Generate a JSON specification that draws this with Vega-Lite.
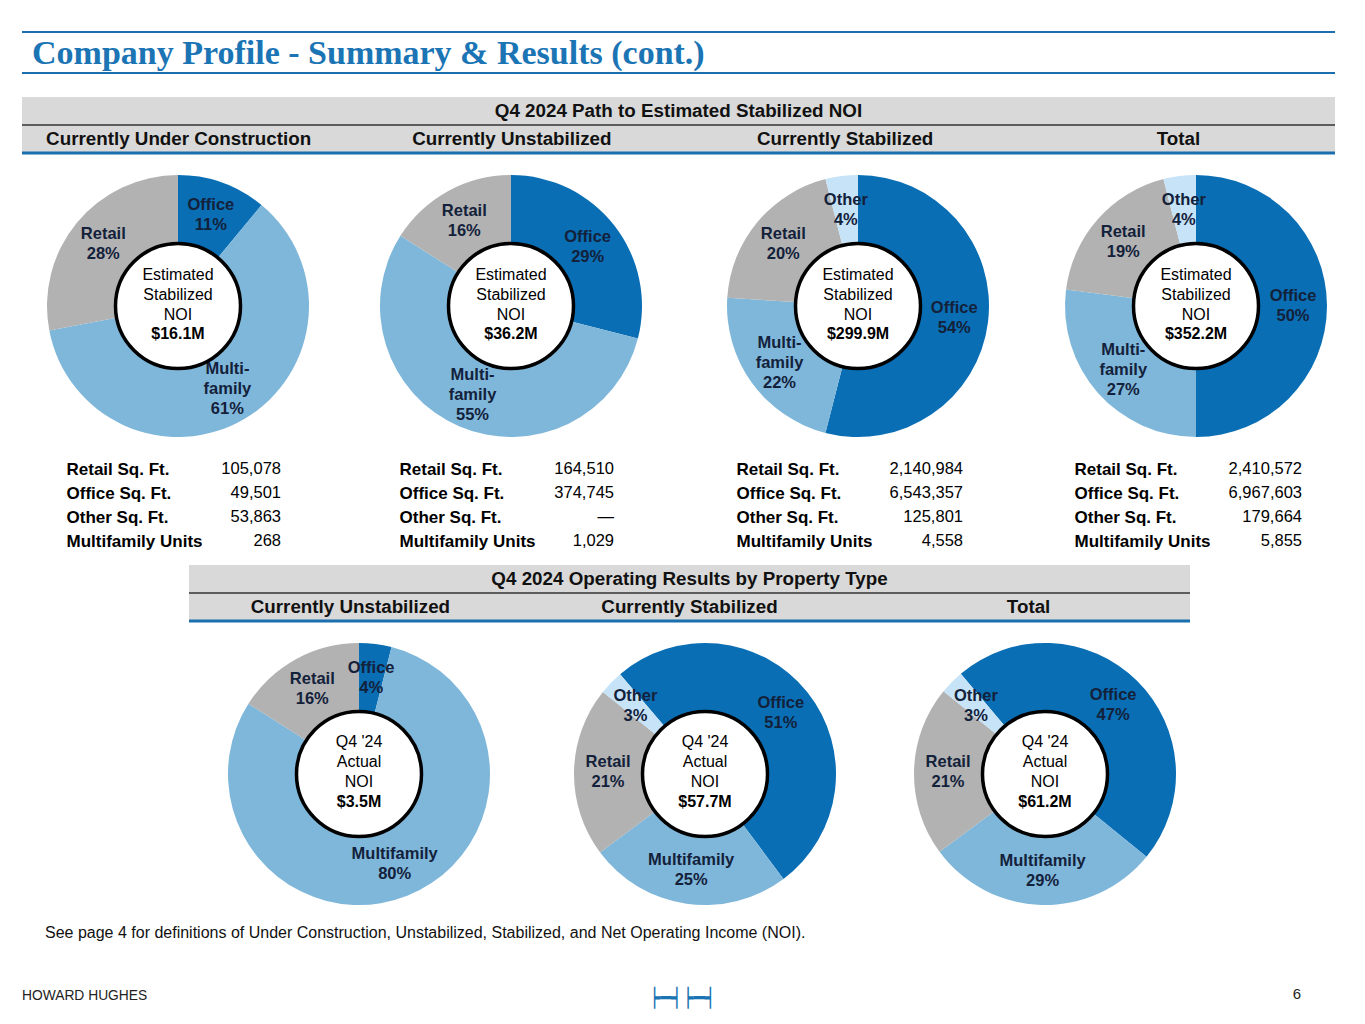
{
  "$schema": "https://vega.github.io/schema/vega-lite/v6.json",
  "padding": {"left": 20, "top": 31, "right": 0, "bottom": 0},
  "background": "white",
  "bounds": "full",
  "spacing": 0,
  "config": {
    "view": {"stroke": null},
    "font": "Liberation Sans",
    "text": {"font": "Liberation Sans"},
    "axis": {"labelFont": "Liberation Sans"}
  },
  "datasets": {
    "slices": [
      {"section": "Path", "status": "Currently Under Construction", "type": "Office", "rank": 1, "pct": 11, "label": "Office\n11%"},
      {"section": "Path", "status": "Currently Under Construction", "type": "Multifamily", "rank": 2, "pct": 61, "label": "Multi-\nfamily\n61%"},
      {"section": "Path", "status": "Currently Under Construction", "type": "Retail", "rank": 3, "pct": 28, "label": "Retail\n28%"},
      {"section": "Path", "status": "Currently Unstabilized", "type": "Office", "rank": 1, "pct": 29, "label": "Office\n29%"},
      {"section": "Path", "status": "Currently Unstabilized", "type": "Multifamily", "rank": 2, "pct": 55, "label": "Multi-\nfamily\n55%"},
      {"section": "Path", "status": "Currently Unstabilized", "type": "Retail", "rank": 3, "pct": 16, "label": "Retail\n16%"},
      {"section": "Path", "status": "Currently Stabilized", "type": "Office", "rank": 1, "pct": 54, "label": "Office\n54%"},
      {"section": "Path", "status": "Currently Stabilized", "type": "Multifamily", "rank": 2, "pct": 22, "label": "Multi-\nfamily\n22%"},
      {"section": "Path", "status": "Currently Stabilized", "type": "Retail", "rank": 3, "pct": 20, "label": "Retail\n20%"},
      {"section": "Path", "status": "Currently Stabilized", "type": "Other", "rank": 4, "pct": 4, "label": "Other\n4%"},
      {"section": "Path", "status": "Total", "type": "Office", "rank": 1, "pct": 50, "label": "Office\n50%"},
      {"section": "Path", "status": "Total", "type": "Multifamily", "rank": 2, "pct": 27, "label": "Multi-\nfamily\n27%"},
      {"section": "Path", "status": "Total", "type": "Retail", "rank": 3, "pct": 19, "label": "Retail\n19%"},
      {"section": "Path", "status": "Total", "type": "Other", "rank": 4, "pct": 4, "label": "Other\n4%"},
      {"section": "Operating", "status": "Currently Unstabilized", "type": "Office", "rank": 1, "pct": 4, "label": "Office\n4%"},
      {"section": "Operating", "status": "Currently Unstabilized", "type": "Multifamily", "rank": 2, "pct": 80, "label": "Multifamily\n80%"},
      {"section": "Operating", "status": "Currently Unstabilized", "type": "Retail", "rank": 3, "pct": 16, "label": "Retail\n16%"},
      {"section": "Operating", "status": "Currently Stabilized", "type": "Office", "rank": 1, "pct": 51, "label": "Office\n51%"},
      {"section": "Operating", "status": "Currently Stabilized", "type": "Multifamily", "rank": 2, "pct": 25, "label": "Multifamily\n25%"},
      {"section": "Operating", "status": "Currently Stabilized", "type": "Retail", "rank": 3, "pct": 21, "label": "Retail\n21%"},
      {"section": "Operating", "status": "Currently Stabilized", "type": "Other", "rank": 4, "pct": 3, "label": "Other\n3%"},
      {"section": "Operating", "status": "Total", "type": "Office", "rank": 1, "pct": 47, "label": "Office\n47%"},
      {"section": "Operating", "status": "Total", "type": "Multifamily", "rank": 2, "pct": 29, "label": "Multifamily\n29%"},
      {"section": "Operating", "status": "Total", "type": "Retail", "rank": 3, "pct": 21, "label": "Retail\n21%"},
      {"section": "Operating", "status": "Total", "type": "Other", "rank": 4, "pct": 3, "label": "Other\n3%"}
    ],
    "centers": [
      {"section": "Path", "status": "Currently Under Construction", "caption": "Estimated\nStabilized\nNOI", "amount": "$16.1M"},
      {"section": "Path", "status": "Currently Unstabilized", "caption": "Estimated\nStabilized\nNOI", "amount": "$36.2M"},
      {"section": "Path", "status": "Currently Stabilized", "caption": "Estimated\nStabilized\nNOI", "amount": "$299.9M"},
      {"section": "Path", "status": "Total", "caption": "Estimated\nStabilized\nNOI", "amount": "$352.2M"},
      {"section": "Operating", "status": "Currently Unstabilized", "caption": "Q4 '24\nActual\nNOI", "amount": "$3.5M"},
      {"section": "Operating", "status": "Currently Stabilized", "caption": "Q4 '24\nActual\nNOI", "amount": "$57.7M"},
      {"section": "Operating", "status": "Total", "caption": "Q4 '24\nActual\nNOI", "amount": "$61.2M"}
    ],
    "tables": [
      {"status": "Currently Under Construction", "metric": "Retail Sq. Ft.", "value": 105078},
      {"status": "Currently Under Construction", "metric": "Office Sq. Ft.", "value": 49501},
      {"status": "Currently Under Construction", "metric": "Other Sq. Ft.", "value": 53863},
      {"status": "Currently Under Construction", "metric": "Multifamily Units", "value": 268},
      {"status": "Currently Unstabilized", "metric": "Retail Sq. Ft.", "value": 164510},
      {"status": "Currently Unstabilized", "metric": "Office Sq. Ft.", "value": 374745},
      {"status": "Currently Unstabilized", "metric": "Other Sq. Ft.", "value": null},
      {"status": "Currently Unstabilized", "metric": "Multifamily Units", "value": 1029},
      {"status": "Currently Stabilized", "metric": "Retail Sq. Ft.", "value": 2140984},
      {"status": "Currently Stabilized", "metric": "Office Sq. Ft.", "value": 6543357},
      {"status": "Currently Stabilized", "metric": "Other Sq. Ft.", "value": 125801},
      {"status": "Currently Stabilized", "metric": "Multifamily Units", "value": 4558},
      {"status": "Total", "metric": "Retail Sq. Ft.", "value": 2410572},
      {"status": "Total", "metric": "Office Sq. Ft.", "value": 6967603},
      {"status": "Total", "metric": "Other Sq. Ft.", "value": 179664},
      {"status": "Total", "metric": "Multifamily Units", "value": 5855}
    ]
  },
  "vconcat": [
    {
      "width": 1313, "height": 41,
      "layer": [
        {"data": {"values": [{"edge": "top"}, {"edge": "bottom"}]},
         "mark": {"type": "rule", "color": "#1b6fae", "strokeWidth": 2},
         "encoding": {"y": {"field": "edge", "type": "nominal", "scale": {"type": "point", "domain": ["top", "bottom"], "padding": 0}, "axis": null}}},
        {"data": {"values": [{"title": "Company Profile - Summary & Results (cont.)"}]},
         "mark": {"type": "text", "align": "left", "baseline": "middle", "dx": 10, "dy": 1, "font": "Liberation Serif", "fontSize": 34, "fontWeight": "bold", "color": "#1b75b5"},
         "encoding": {"x": {"field": "title", "type": "nominal", "scale": {"type": "point", "padding": 0, "align": 0}, "axis": null}, "text": {"field": "title"}}}
      ]
    },
    {"width": 1, "height": 23, "data": {"values": [{"gap": 1}]}, "mark": {"type": "point", "size": 0, "opacity": 0}, "encoding": {}},
    {
      "width": 1313, "height": 56,
      "view": {"fill": "#d9d9d9", "stroke": null},
      "layer": [
        {"data": {"values": [{"row": "title", "label": "Q4 2024 Path to Estimated Stabilized NOI"}]},
         "mark": {"type": "text", "fontSize": 18.8, "fontWeight": "bold", "color": "#111111"},
         "encoding": {"y": {"field": "row", "type": "nominal", "scale": {"type": "point", "domain": ["title", "divider", "headers", "bottom"], "padding": 0.5, "align": 1}, "axis": null}, "text": {"field": "label"}}},
        {"data": {"values": [{"row": "divider"}]},
         "mark": {"type": "rule", "color": "#333333", "strokeWidth": 1.5},
         "encoding": {"y": {"field": "row", "type": "nominal", "scale": {"type": "point", "domain": ["title", "divider", "headers", "bottom"], "padding": 0.5, "align": 1}, "axis": null}}},
        {"data": {"values": [{"row": "headers", "col": "Currently Under Construction"}, {"row": "headers", "col": "Currently Unstabilized"}, {"row": "headers", "col": "Currently Stabilized"}, {"row": "headers", "col": "Total"}]},
         "mark": {"type": "text", "fontSize": 18.8, "fontWeight": "bold", "color": "#111111"},
         "encoding": {
           "y": {"field": "row", "type": "nominal", "scale": {"type": "point", "domain": ["title", "divider", "headers", "bottom"], "padding": 0.5, "align": 1}, "axis": null},
           "x": {"field": "col", "type": "nominal", "scale": {"type": "point", "domain": ["Currently Under Construction", "Currently Unstabilized", "Currently Stabilized", "Total"], "padding": 0.47}, "axis": null},
           "text": {"field": "col"}}},
        {"data": {"values": [{"row": "bottom"}]},
         "mark": {"type": "rule", "color": "#1b6fae", "strokeWidth": 3},
         "encoding": {"y": {"field": "row", "type": "nominal", "scale": {"type": "point", "domain": ["title", "divider", "headers", "bottom"], "padding": 0.5, "align": 1}, "axis": null}}}
      ]
    },
    {
      "spacing": 0, "bounds": "flush",
      "hconcat": [
        {
          "width": 312, "height": 302,
          "layer": [
            {"data": {"name": "slices"}, "transform": [{"filter": "datum.section === 'Path' && datum.status === 'Currently Under Construction'"}],
             "mark": {"type": "arc", "outerRadius": 131, "innerRadius": 60},
             "encoding": {"theta": {"field": "pct", "type": "quantitative", "stack": true},
               "color": {"field": "type", "type": "nominal", "scale": {"domain": ["Office", "Multifamily", "Retail", "Other"], "range": ["#0a6eb4", "#7fb7da", "#b2b2b2", "#c6e3f7"]}, "legend": null},
               "order": {"field": "rank", "type": "quantitative"}}},
            {"data": {"name": "slices"}, "transform": [{"filter": "datum.section === 'Path' && datum.status === 'Currently Under Construction'"}],
             "mark": {"type": "text", "radius": 97, "fontSize": 16.5, "fontWeight": "bold", "color": "#13213a", "lineBreak": "\n", "lineHeight": 20, "dy": {"expr": "-10 * (length(split(datum.label, '\\n')) - 1)"}},
             "encoding": {"theta": {"field": "pct", "type": "quantitative", "stack": true}, "detail": {"field": "type"}, "order": {"field": "rank", "type": "quantitative"}, "text": {"field": "label"}}},
            {"data": {"name": "centers"}, "transform": [{"filter": "datum.section === 'Path' && datum.status === 'Currently Under Construction'"}],
             "mark": {"type": "point", "shape": "circle", "size": 15625, "filled": true, "fill": "#ffffff", "stroke": "#000000", "strokeWidth": 3.5, "opacity": 1}, "encoding": {}},
            {"data": {"name": "centers"}, "transform": [{"filter": "datum.section === 'Path' && datum.status === 'Currently Under Construction'"}],
             "mark": {"type": "text", "fontSize": 16, "lineBreak": "\n", "lineHeight": 20, "dy": -31, "color": "#000000"}, "encoding": {"text": {"field": "caption"}}},
            {"data": {"name": "centers"}, "transform": [{"filter": "datum.section === 'Path' && datum.status === 'Currently Under Construction'"}],
             "mark": {"type": "text", "fontSize": 16, "fontWeight": "bold", "dy": 28, "color": "#000000"}, "encoding": {"text": {"field": "amount"}}}
          ]
        },
        {
          "width": 354, "height": 302,
          "layer": [
            {"data": {"name": "slices"}, "transform": [{"filter": "datum.section === 'Path' && datum.status === 'Currently Unstabilized'"}],
             "mark": {"type": "arc", "outerRadius": 131, "innerRadius": 60},
             "encoding": {"theta": {"field": "pct", "type": "quantitative", "stack": true},
               "color": {"field": "type", "type": "nominal", "scale": {"domain": ["Office", "Multifamily", "Retail", "Other"], "range": ["#0a6eb4", "#7fb7da", "#b2b2b2", "#c6e3f7"]}, "legend": null},
               "order": {"field": "rank", "type": "quantitative"}}},
            {"data": {"name": "slices"}, "transform": [{"filter": "datum.section === 'Path' && datum.status === 'Currently Unstabilized'"}],
             "mark": {"type": "text", "radius": 97, "fontSize": 16.5, "fontWeight": "bold", "color": "#13213a", "lineBreak": "\n", "lineHeight": 20, "dy": {"expr": "-10 * (length(split(datum.label, '\\n')) - 1)"}},
             "encoding": {"theta": {"field": "pct", "type": "quantitative", "stack": true}, "detail": {"field": "type"}, "order": {"field": "rank", "type": "quantitative"}, "text": {"field": "label"}}},
            {"data": {"name": "centers"}, "transform": [{"filter": "datum.section === 'Path' && datum.status === 'Currently Unstabilized'"}],
             "mark": {"type": "point", "shape": "circle", "size": 15625, "filled": true, "fill": "#ffffff", "stroke": "#000000", "strokeWidth": 3.5, "opacity": 1}, "encoding": {}},
            {"data": {"name": "centers"}, "transform": [{"filter": "datum.section === 'Path' && datum.status === 'Currently Unstabilized'"}],
             "mark": {"type": "text", "fontSize": 16, "lineBreak": "\n", "lineHeight": 20, "dy": -31, "color": "#000000"}, "encoding": {"text": {"field": "caption"}}},
            {"data": {"name": "centers"}, "transform": [{"filter": "datum.section === 'Path' && datum.status === 'Currently Unstabilized'"}],
             "mark": {"type": "text", "fontSize": 16, "fontWeight": "bold", "dy": 28, "color": "#000000"}, "encoding": {"text": {"field": "amount"}}}
          ]
        },
        {
          "width": 340, "height": 302,
          "layer": [
            {"data": {"name": "slices"}, "transform": [{"filter": "datum.section === 'Path' && datum.status === 'Currently Stabilized'"}],
             "mark": {"type": "arc", "outerRadius": 131, "innerRadius": 60},
             "encoding": {"theta": {"field": "pct", "type": "quantitative", "stack": true},
               "color": {"field": "type", "type": "nominal", "scale": {"domain": ["Office", "Multifamily", "Retail", "Other"], "range": ["#0a6eb4", "#7fb7da", "#b2b2b2", "#c6e3f7"]}, "legend": null},
               "order": {"field": "rank", "type": "quantitative"}}},
            {"data": {"name": "slices"}, "transform": [{"filter": "datum.section === 'Path' && datum.status === 'Currently Stabilized'"}],
             "mark": {"type": "text", "radius": 97, "fontSize": 16.5, "fontWeight": "bold", "color": "#13213a", "lineBreak": "\n", "lineHeight": 20, "dy": {"expr": "-10 * (length(split(datum.label, '\\n')) - 1)"}},
             "encoding": {"theta": {"field": "pct", "type": "quantitative", "stack": true}, "detail": {"field": "type"}, "order": {"field": "rank", "type": "quantitative"}, "text": {"field": "label"}}},
            {"data": {"name": "centers"}, "transform": [{"filter": "datum.section === 'Path' && datum.status === 'Currently Stabilized'"}],
             "mark": {"type": "point", "shape": "circle", "size": 15625, "filled": true, "fill": "#ffffff", "stroke": "#000000", "strokeWidth": 3.5, "opacity": 1}, "encoding": {}},
            {"data": {"name": "centers"}, "transform": [{"filter": "datum.section === 'Path' && datum.status === 'Currently Stabilized'"}],
             "mark": {"type": "text", "fontSize": 16, "lineBreak": "\n", "lineHeight": 20, "dy": -31, "color": "#000000"}, "encoding": {"text": {"field": "caption"}}},
            {"data": {"name": "centers"}, "transform": [{"filter": "datum.section === 'Path' && datum.status === 'Currently Stabilized'"}],
             "mark": {"type": "text", "fontSize": 16, "fontWeight": "bold", "dy": 28, "color": "#000000"}, "encoding": {"text": {"field": "amount"}}}
          ]
        },
        {
          "width": 336, "height": 302,
          "layer": [
            {"data": {"name": "slices"}, "transform": [{"filter": "datum.section === 'Path' && datum.status === 'Total'"}],
             "mark": {"type": "arc", "outerRadius": 131, "innerRadius": 60},
             "encoding": {"theta": {"field": "pct", "type": "quantitative", "stack": true},
               "color": {"field": "type", "type": "nominal", "scale": {"domain": ["Office", "Multifamily", "Retail", "Other"], "range": ["#0a6eb4", "#7fb7da", "#b2b2b2", "#c6e3f7"]}, "legend": null},
               "order": {"field": "rank", "type": "quantitative"}}},
            {"data": {"name": "slices"}, "transform": [{"filter": "datum.section === 'Path' && datum.status === 'Total'"}],
             "mark": {"type": "text", "radius": 97, "fontSize": 16.5, "fontWeight": "bold", "color": "#13213a", "lineBreak": "\n", "lineHeight": 20, "dy": {"expr": "-10 * (length(split(datum.label, '\\n')) - 1)"}},
             "encoding": {"theta": {"field": "pct", "type": "quantitative", "stack": true}, "detail": {"field": "type"}, "order": {"field": "rank", "type": "quantitative"}, "text": {"field": "label"}}},
            {"data": {"name": "centers"}, "transform": [{"filter": "datum.section === 'Path' && datum.status === 'Total'"}],
             "mark": {"type": "point", "shape": "circle", "size": 15625, "filled": true, "fill": "#ffffff", "stroke": "#000000", "strokeWidth": 3.5, "opacity": 1}, "encoding": {}},
            {"data": {"name": "centers"}, "transform": [{"filter": "datum.section === 'Path' && datum.status === 'Total'"}],
             "mark": {"type": "text", "fontSize": 16, "lineBreak": "\n", "lineHeight": 20, "dy": -31, "color": "#000000"}, "encoding": {"text": {"field": "caption"}}},
            {"data": {"name": "centers"}, "transform": [{"filter": "datum.section === 'Path' && datum.status === 'Total'"}],
             "mark": {"type": "text", "fontSize": 16, "fontWeight": "bold", "dy": 28, "color": "#000000"}, "encoding": {"text": {"field": "amount"}}}
          ]
        }
      ]
    },
    {
      "spacing": 0, "bounds": "flush",
      "hconcat": [
        {"width": 259, "height": 96, "data": {"name": "tables"}, "transform": [{"filter": "datum.status === 'Currently Under Construction'"}],
         "mark": {"type": "text", "align": "right", "x": "width", "fontSize": 16.5, "color": "#000000"},
         "encoding": {
           "y": {"field": "metric", "type": "nominal", "scale": {"type": "point", "padding": 0.5, "domain": ["Retail Sq. Ft.", "Office Sq. Ft.", "Other Sq. Ft.", "Multifamily Units"]},
                 "axis": {"title": null, "orient": "left", "labelAlign": "left", "labelPadding": -44, "ticks": false, "tickSize": 0, "domain": false, "grid": false, "labelFontSize": 17, "labelFontWeight": "bold", "labelColor": "#000000", "labelLimit": 400, "labelBound": false, "labelOverlap": false}},
           "text": {"condition": {"test": "datum.value === null", "value": "—"}, "field": "value", "type": "quantitative", "format": ","}}},
        {"width": 333, "height": 96, "data": {"name": "tables"}, "transform": [{"filter": "datum.status === 'Currently Unstabilized'"}],
         "mark": {"type": "text", "align": "right", "x": "width", "fontSize": 16.5, "color": "#000000"},
         "encoding": {
           "y": {"field": "metric", "type": "nominal", "scale": {"type": "point", "padding": 0.5, "domain": ["Retail Sq. Ft.", "Office Sq. Ft.", "Other Sq. Ft.", "Multifamily Units"]},
                 "axis": {"title": null, "orient": "left", "labelAlign": "left", "labelPadding": -118, "ticks": false, "tickSize": 0, "domain": false, "grid": false, "labelFontSize": 17, "labelFontWeight": "bold", "labelColor": "#000000", "labelLimit": 400, "labelBound": false, "labelOverlap": false}},
           "text": {"condition": {"test": "datum.value === null", "value": "—"}, "field": "value", "type": "quantitative", "format": ","}}},
        {"width": 349, "height": 96, "data": {"name": "tables"}, "transform": [{"filter": "datum.status === 'Currently Stabilized'"}],
         "mark": {"type": "text", "align": "right", "x": "width", "fontSize": 16.5, "color": "#000000"},
         "encoding": {
           "y": {"field": "metric", "type": "nominal", "scale": {"type": "point", "padding": 0.5, "domain": ["Retail Sq. Ft.", "Office Sq. Ft.", "Other Sq. Ft.", "Multifamily Units"]},
                 "axis": {"title": null, "orient": "left", "labelAlign": "left", "labelPadding": -122, "ticks": false, "tickSize": 0, "domain": false, "grid": false, "labelFontSize": 17, "labelFontWeight": "bold", "labelColor": "#000000", "labelLimit": 400, "labelBound": false, "labelOverlap": false}},
           "text": {"condition": {"test": "datum.value === null", "value": "—"}, "field": "value", "type": "quantitative", "format": ","}}},
        {"width": 339, "height": 96, "data": {"name": "tables"}, "transform": [{"filter": "datum.status === 'Total'"}],
         "mark": {"type": "text", "align": "right", "x": "width", "fontSize": 16.5, "color": "#000000"},
         "encoding": {
           "y": {"field": "metric", "type": "nominal", "scale": {"type": "point", "padding": 0.5, "domain": ["Retail Sq. Ft.", "Office Sq. Ft.", "Other Sq. Ft.", "Multifamily Units"]},
                 "axis": {"title": null, "orient": "left", "labelAlign": "left", "labelPadding": -111, "ticks": false, "tickSize": 0, "domain": false, "grid": false, "labelFontSize": 17, "labelFontWeight": "bold", "labelColor": "#000000", "labelLimit": 400, "labelBound": false, "labelOverlap": false}},
           "text": {"condition": {"test": "datum.value === null", "value": "—"}, "field": "value", "type": "quantitative", "format": ","}}}
      ]
    },
    {"width": 1, "height": 12, "data": {"values": [{"gap": 1}]}, "mark": {"type": "point", "size": 0, "opacity": 0}, "encoding": {}},
    {
      "spacing": 0, "bounds": "full",
      "hconcat": [
        {"width": 165, "height": 1, "data": {"values": [{"gap": 1}]}, "mark": {"type": "point", "size": 0, "opacity": 0}, "encoding": {}},
        {
          "spacing": 0, "bounds": "full",
          "vconcat": [
            {
              "width": 1001, "height": 56,
              "view": {"fill": "#d9d9d9", "stroke": null},
              "layer": [
                {"data": {"values": [{"row": "title", "label": "Q4 2024 Operating Results by Property Type"}]},
                 "mark": {"type": "text", "fontSize": 18.8, "fontWeight": "bold", "color": "#111111"},
                 "encoding": {"y": {"field": "row", "type": "nominal", "scale": {"type": "point", "domain": ["title", "divider", "headers", "bottom"], "padding": 0.5, "align": 1}, "axis": null}, "text": {"field": "label"}}},
                {"data": {"values": [{"row": "divider"}]},
                 "mark": {"type": "rule", "color": "#333333", "strokeWidth": 1.5},
                 "encoding": {"y": {"field": "row", "type": "nominal", "scale": {"type": "point", "domain": ["title", "divider", "headers", "bottom"], "padding": 0.5, "align": 1}, "axis": null}}},
                {"data": {"values": [{"row": "headers", "col": "Currently Unstabilized"}, {"row": "headers", "col": "Currently Stabilized"}, {"row": "headers", "col": "Total"}]},
                 "mark": {"type": "text", "fontSize": 18.8, "fontWeight": "bold", "color": "#111111"},
                 "encoding": {
                   "y": {"field": "row", "type": "nominal", "scale": {"type": "point", "domain": ["title", "divider", "headers", "bottom"], "padding": 0.5, "align": 1}, "axis": null},
                   "x": {"field": "col", "type": "nominal", "scale": {"type": "point", "domain": ["Currently Unstabilized", "Currently Stabilized", "Total"], "padding": 0.476}, "axis": null},
                   "text": {"field": "col"}}},
                {"data": {"values": [{"row": "bottom"}]},
                 "mark": {"type": "rule", "color": "#1b6fae", "strokeWidth": 3},
                 "encoding": {"y": {"field": "row", "type": "nominal", "scale": {"type": "point", "domain": ["title", "divider", "headers", "bottom"], "padding": 0.5, "align": 1}, "axis": null}}}
              ]
            },
            {
              "spacing": 0, "bounds": "flush",
              "hconcat": [
                {
                  "width": 340, "height": 302,
                  "layer": [
                    {"data": {"name": "slices"}, "transform": [{"filter": "datum.section === 'Operating' && datum.status === 'Currently Unstabilized'"}],
                     "mark": {"type": "arc", "outerRadius": 131, "innerRadius": 60},
                     "encoding": {"theta": {"field": "pct", "type": "quantitative", "stack": true},
                       "color": {"field": "type", "type": "nominal", "scale": {"domain": ["Office", "Multifamily", "Retail", "Other"], "range": ["#0a6eb4", "#7fb7da", "#b2b2b2", "#c6e3f7"]}, "legend": null},
                       "order": {"field": "rank", "type": "quantitative"}}},
                    {"data": {"name": "slices"}, "transform": [{"filter": "datum.section === 'Operating' && datum.status === 'Currently Unstabilized'"}],
                     "mark": {"type": "text", "radius": 97, "fontSize": 16.5, "fontWeight": "bold", "color": "#13213a", "lineBreak": "\n", "lineHeight": 20, "dy": {"expr": "-10 * (length(split(datum.label, '\\n')) - 1)"}},
                     "encoding": {"theta": {"field": "pct", "type": "quantitative", "stack": true}, "detail": {"field": "type"}, "order": {"field": "rank", "type": "quantitative"}, "text": {"field": "label"}}},
                    {"data": {"name": "centers"}, "transform": [{"filter": "datum.section === 'Operating' && datum.status === 'Currently Unstabilized'"}],
                     "mark": {"type": "point", "shape": "circle", "size": 15625, "filled": true, "fill": "#ffffff", "stroke": "#000000", "strokeWidth": 3.5, "opacity": 1}, "encoding": {}},
                    {"data": {"name": "centers"}, "transform": [{"filter": "datum.section === 'Operating' && datum.status === 'Currently Unstabilized'"}],
                     "mark": {"type": "text", "fontSize": 16, "lineBreak": "\n", "lineHeight": 20, "dy": -32, "color": "#000000"}, "encoding": {"text": {"field": "caption"}}},
                    {"data": {"name": "centers"}, "transform": [{"filter": "datum.section === 'Operating' && datum.status === 'Currently Unstabilized'"}],
                     "mark": {"type": "text", "fontSize": 16, "fontWeight": "bold", "dy": 28, "color": "#000000"}, "encoding": {"text": {"field": "amount"}}}
                  ]
                },
                {
                  "width": 352, "height": 302,
                  "layer": [
                    {"data": {"name": "slices"}, "transform": [{"filter": "datum.section === 'Operating' && datum.status === 'Currently Stabilized'"}],
                     "mark": {"type": "arc", "outerRadius": 131, "innerRadius": 60},
                     "encoding": {"theta": {"field": "pct", "type": "quantitative", "stack": true, "scale": {"range": [-0.705, 5.578]}},
                       "color": {"field": "type", "type": "nominal", "scale": {"domain": ["Office", "Multifamily", "Retail", "Other"], "range": ["#0a6eb4", "#7fb7da", "#b2b2b2", "#c6e3f7"]}, "legend": null},
                       "order": {"field": "rank", "type": "quantitative"}}},
                    {"data": {"name": "slices"}, "transform": [{"filter": "datum.section === 'Operating' && datum.status === 'Currently Stabilized'"}],
                     "mark": {"type": "text", "radius": 97, "fontSize": 16.5, "fontWeight": "bold", "color": "#13213a", "lineBreak": "\n", "lineHeight": 20, "dy": {"expr": "-10 * (length(split(datum.label, '\\n')) - 1)"}},
                     "encoding": {"theta": {"field": "pct", "type": "quantitative", "stack": true, "scale": {"range": [-0.705, 5.578]}}, "detail": {"field": "type"}, "order": {"field": "rank", "type": "quantitative"}, "text": {"field": "label"}}},
                    {"data": {"name": "centers"}, "transform": [{"filter": "datum.section === 'Operating' && datum.status === 'Currently Stabilized'"}],
                     "mark": {"type": "point", "shape": "circle", "size": 15625, "filled": true, "fill": "#ffffff", "stroke": "#000000", "strokeWidth": 3.5, "opacity": 1}, "encoding": {}},
                    {"data": {"name": "centers"}, "transform": [{"filter": "datum.section === 'Operating' && datum.status === 'Currently Stabilized'"}],
                     "mark": {"type": "text", "fontSize": 16, "lineBreak": "\n", "lineHeight": 20, "dy": -32, "color": "#000000"}, "encoding": {"text": {"field": "caption"}}},
                    {"data": {"name": "centers"}, "transform": [{"filter": "datum.section === 'Operating' && datum.status === 'Currently Stabilized'"}],
                     "mark": {"type": "text", "fontSize": 16, "fontWeight": "bold", "dy": 28, "color": "#000000"}, "encoding": {"text": {"field": "amount"}}}
                  ]
                },
                {
                  "width": 328, "height": 302,
                  "layer": [
                    {"data": {"name": "slices"}, "transform": [{"filter": "datum.section === 'Operating' && datum.status === 'Total'"}],
                     "mark": {"type": "arc", "outerRadius": 131, "innerRadius": 60},
                     "encoding": {"theta": {"field": "pct", "type": "quantitative", "stack": true, "scale": {"range": [-0.698, 5.585]}},
                       "color": {"field": "type", "type": "nominal", "scale": {"domain": ["Office", "Multifamily", "Retail", "Other"], "range": ["#0a6eb4", "#7fb7da", "#b2b2b2", "#c6e3f7"]}, "legend": null},
                       "order": {"field": "rank", "type": "quantitative"}}},
                    {"data": {"name": "slices"}, "transform": [{"filter": "datum.section === 'Operating' && datum.status === 'Total'"}],
                     "mark": {"type": "text", "radius": 97, "fontSize": 16.5, "fontWeight": "bold", "color": "#13213a", "lineBreak": "\n", "lineHeight": 20, "dy": {"expr": "-10 * (length(split(datum.label, '\\n')) - 1)"}},
                     "encoding": {"theta": {"field": "pct", "type": "quantitative", "stack": true, "scale": {"range": [-0.698, 5.585]}}, "detail": {"field": "type"}, "order": {"field": "rank", "type": "quantitative"}, "text": {"field": "label"}}},
                    {"data": {"name": "centers"}, "transform": [{"filter": "datum.section === 'Operating' && datum.status === 'Total'"}],
                     "mark": {"type": "point", "shape": "circle", "size": 15625, "filled": true, "fill": "#ffffff", "stroke": "#000000", "strokeWidth": 3.5, "opacity": 1}, "encoding": {}},
                    {"data": {"name": "centers"}, "transform": [{"filter": "datum.section === 'Operating' && datum.status === 'Total'"}],
                     "mark": {"type": "text", "fontSize": 16, "lineBreak": "\n", "lineHeight": 20, "dy": -32, "color": "#000000"}, "encoding": {"text": {"field": "caption"}}},
                    {"data": {"name": "centers"}, "transform": [{"filter": "datum.section === 'Operating' && datum.status === 'Total'"}],
                     "mark": {"type": "text", "fontSize": 16, "fontWeight": "bold", "dy": 28, "color": "#000000"}, "encoding": {"text": {"field": "amount"}}}
                  ]
                }
              ]
            }
          ]
        }
      ]
    },
    {
      "width": 1313, "height": 16,
      "data": {"values": [{"note": "See page 4 for definitions of Under Construction, Unstabilized, Stabilized, and Net Operating Income (NOI)."}]},
      "mark": {"type": "text", "align": "left", "dx": 23, "fontSize": 16, "color": "#111111"},
      "encoding": {"x": {"field": "note", "type": "nominal", "scale": {"type": "point", "padding": 0, "align": 0}, "axis": null}, "text": {"field": "note"}}
    },
    {"width": 1, "height": 40.5, "data": {"values": [{"gap": 1}]}, "mark": {"type": "point", "size": 0, "opacity": 0}, "encoding": {}},
    {
      "width": 1313, "height": 28,
      "layer": [
        {"data": {"values": [{"brand": "HOWARD HUGHES"}]},
         "mark": {"type": "text", "align": "left", "fontSize": 13.8, "color": "#222222"},
         "encoding": {"x": {"field": "brand", "type": "nominal", "scale": {"type": "point", "padding": 0, "align": 0}, "axis": null}, "text": {"field": "brand"}}},
        {"data": {"values": [{"logo": "┝━┥┝━┥"}]},
         "mark": {"type": "text", "font": "DejaVu Sans Mono", "fontSize": 18.5, "dx": 4, "dy": 2, "color": "#1a74b4"},
         "encoding": {"text": {"field": "logo"}}},
        {"data": {"values": [{"page": "6"}]},
         "mark": {"type": "text", "align": "right", "x": "width", "dx": -34, "dy": -2, "fontSize": 15, "color": "#222222"},
         "encoding": {"text": {"field": "page"}}}
      ]
    }
  ]
}
